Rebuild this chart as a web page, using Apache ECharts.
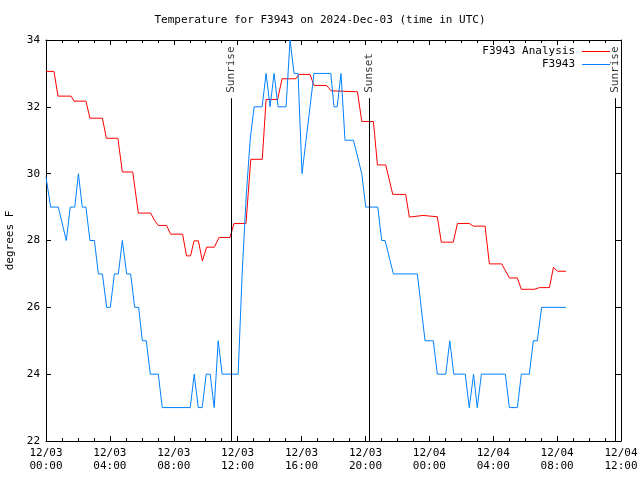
<!DOCTYPE html>
<html>
<head>
<meta charset="utf-8">
<script src="https://cdn.jsdelivr.net/npm/echarts@6/dist/echarts.min.js"></script>
<style>
html,body{margin:0;padding:0;background:#fff;}
#c{width:640px;height:480px;}
</style>
</head>
<body>
<div id="c"></div>
<script>
// Hours since 2024-12-03 00:00 UTC
var redHours = [0,0.5,0.75,1.57,1.75,2.5,2.75,3.53,3.78,4.5,4.78,5.43,5.5,5.78,6.55,6.8,7.03,7.55,7.8,8.55,8.8,9.05,9.27,9.54,9.79,10.06,10.54,10.83,11.52,11.77,12.52,12.82,13.54,13.78,14.5,14.78,15.65,15.82,16.53,16.78,17.57,17.85,19.5,19.77,20.5,20.75,21.27,21.71,22.52,22.75,23.6,23.7,24.5,24.75,25.5,25.76,26.5,26.76,27.49,27.76,28.53,29.01,29.51,29.76,30.58,30.89,31.52,31.77,32.02,32.56];
var redTemps = [33.06,33.06,32.32,32.32,32.17,32.17,31.66,31.66,31.06,31.06,30.05,30.05,30.08,28.82,28.82,28.6,28.45,28.45,28.19,28.19,27.54,27.54,27.99,27.99,27.39,27.8,27.8,28.09,28.09,28.51,28.51,30.43,30.43,32.22,32.22,32.84,32.84,32.97,32.97,32.64,32.64,32.48,32.45,31.56,31.56,30.26,30.26,29.38,29.38,28.70,28.75,28.71,28.71,27.95,27.95,28.51,28.51,28.43,28.43,27.30,27.30,26.88,26.88,26.54,26.54,26.59,26.59,27.20,27.08,27.08];

var blueHours = [0,0.29,0.77,1.27,1.52,1.8,2.03,2.27,2.5,2.75,3.03,3.28,3.53,3.8,4.03,4.28,4.53,4.78,5.05,5.3,5.55,5.8,6.03,6.28,6.53,7.03,7.28,9.03,9.28,9.53,9.78,10.03,10.28,10.53,10.78,11.03,12.03,12.28,12.53,12.78,13.03,13.53,13.78,14.03,14.28,14.53,15.03,15.28,15.53,15.78,16.03,16.28,16.53,16.78,17.83,18.03,18.23,18.47,18.72,19.25,19.77,19.87,20.02,20.77,21.02,21.23,21.75,23.25,23.73,24.25,24.5,25.03,25.28,25.53,26.25,26.5,26.77,27.0,27.26,28.76,29.01,29.51,29.76,30.26,30.51,30.76,31.03,32.56];
var blueTemps = [29.9,29,29,28,29,29,30,29,29,28,28,27,27,26,26,27,27,28,27,27,26,26,25,25,24,24,23,23,24,23,23,24,24,23,25,24,24,27,29.3,31,32,32,33,32,33,32,32,34,33,33,30,31,32,33,33,32,32,33,31,31,30,30,29,29,28,28,27,27,25,25,24,24,25,24,24,23,24,23,24,24,23,23,24,24,25,25,26,26];

var eventNames = ['Sunrise','Sunset','Sunrise'];
var eventHours = [11.58,20.23,35.63];

var xTicks = [0,4,8,12,16,20,24,28,32,36];
var yTicks = [22,24,26,28,30,32,34];

function zip(a,b){var r=[];for(var i=0;i<a.length;i++)r.push([a[i],b[i]]);return r;}
function pad(n){return (n<10?'0':'')+n;}
function fmtX(v){
  var day = 3 + Math.floor(v/24);
  var hh = Math.round(v % 24);
  return '12/' + pad(day) + '\n' + pad(hh) + ':00';
}

var FONT = 'DejaVu Sans Mono';

function xAx(pos, labels){
  return {
    type:'value', position:pos, min:xTicks[0], max:xTicks[xTicks.length-1], interval:4,
    axisLine:{show:true, onZero:false, lineStyle:{color:'#000', width:1}},
    axisTick:{show:true, inside:true, length:5, lineStyle:{color:'#000'}},
    minorTick:{show:true, splitNumber:4, length:3, lineStyle:{color:'#000'}},
    splitLine:{show:false},
    axisLabel:{show:labels, formatter:fmtX, margin:6, lineHeight:13, fontFamily:FONT, fontSize:11, color:'#000', hideOverlap:false}
  };
}
function yAx(pos, labels){
  return {
    type:'value', position:pos, min:yTicks[0], max:yTicks[yTicks.length-1], interval:2,
    name: labels ? 'degrees F' : '', nameLocation:'middle', nameGap:26, nameRotate:90,
    nameTextStyle:{fontFamily:FONT, fontSize:11, color:'#000'},
    axisLine:{show:true, onZero:false, lineStyle:{color:'#000', width:1}},
    axisTick:{show:true, inside:true, length:5, lineStyle:{color:'#000'}},
    splitLine:{show:false},
    axisLabel:{show:labels, margin:6, fontFamily:FONT, fontSize:11, color:'#000'}
  };
}

var chart = echarts.init(document.getElementById('c'), null, {renderer:'canvas'});
var option = {
  backgroundColor:'#fff',
  animation:false,
  title:{text:'Temperature for F3943 on 2024-Dec-03 (time in UTC)', left:'center', top:10,
    textStyle:{fontFamily:FONT, fontSize:11, fontWeight:'normal', color:'#000'}},
  legend:{
    data:[{name:'F3943 Analysis', icon:'rect'},{name:'F3943', icon:'rect'}],
    orient:'vertical', right:30, top:46, align:'right',
    itemWidth:28, itemHeight:1, itemGap:2, padding:0,
    textStyle:{fontFamily:FONT, fontSize:11, color:'#000', padding:[0,2,0,0], lineHeight:11}
  },
  grid:{left:46, right:19, top:40, bottom:39, containLabel:false, outerBoundsMode:'none'},
  xAxis:[xAx('bottom', true), xAx('top', false)],
  yAxis:[yAx('left', true), yAx('right', false)],
  series:[
    {name:'F3943 Analysis', type:'line', data:zip(redHours, redTemps), showSymbol:false, symbol:'none',
     color:'#ff0000', lineStyle:{color:'#ff0000', width:1}, z:3},
    {name:'F3943', type:'line', data:zip(blueHours, blueTemps), showSymbol:false, symbol:'none',
     color:'#0080ff', lineStyle:{color:'#0080ff', width:1}, z:4},
    {name:'events', type:'scatter', symbolSize:0, silent:true, z:5,
     data: eventHours.map(function(h,i){return {name:eventNames[i], value:[h, 32.42]};}),
     label:{show:true, formatter:'{b}', rotate:90, position:'inside', align:'left', verticalAlign:'middle',
       fontFamily:FONT, fontSize:11, color:'#000'},
     markLine:{silent:true, symbol:['none','none'], label:{show:false},
       lineStyle:{color:'#000', width:1, type:'solid'},
       data: eventHours.map(function(h){return [{coord:[h, 22]},{coord:[h, 32.26]}];})}
    }
  ]
};
chart.setOption(option);
</script>
</body>
</html>
